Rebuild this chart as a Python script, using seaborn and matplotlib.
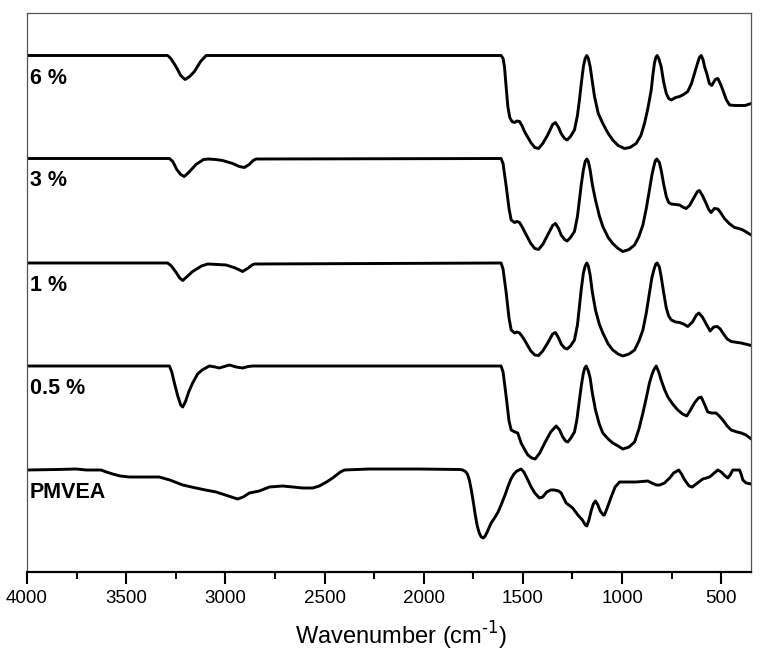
import numpy as np
import pandas as pd
import matplotlib
matplotlib.use("Agg")
import matplotlib.pyplot as plt
from matplotlib.ticker import MultipleLocator
import seaborn as sns

# sample names, top to bottom
samples = ["6 %", "3 %", "1 %", "0.5 %", "PMVEA"]

# wavenumber (cm-1) and signal relative to the flat baseline (a.u.)
wn_6 = [4000, 3291, 3275, 3249, 3225, 3203, 3180, 3156, 3125, 3097, 1610, 1600, 1593, 1585, 1576,
        1566, 1555, 1542, 1530, 1517, 1505, 1492, 1460, 1440, 1421, 1400, 1375, 1350, 1336, 1320,
        1307, 1290, 1277, 1260, 1240, 1225, 1215, 1205, 1195, 1186, 1178, 1170, 1161, 1150, 1139,
        1120, 1097, 1070, 1047, 1020, 988, 960, 929, 905, 887, 870, 853, 845, 837, 830,
        823, 815, 803, 790, 777, 765, 752, 730, 710, 690, 669, 650, 635, 620, 610,
        601, 592, 583, 573, 560, 548, 530, 517, 505, 492, 475, 458, 430, 408, 380, 349]
sig_6 = [0, 0, -3, -11, -20, -24, -21, -16, -6, 0, 0, -3, -11, -30, -51,
         -62, -66, -67, -65.5, -66, -70, -76, -87, -92, -93, -88, -79.5, -69, -67, -72,
         -78, -83, -84.5, -81, -74.5, -60, -44.5, -27, -11, -3, 0, -3, -11, -26, -41,
         -58, -68, -78, -84.5, -90, -93, -92, -88, -80, -68, -53, -34.5, -20, -8, -2,
         0, -3, -11, -27, -38, -43, -44.5, -42, -41, -39, -36, -28, -18, -8, -2,
         0, -4, -12, -18, -28, -30, -24, -23, -28, -34.5, -44, -49.5, -50, -50, -50, -48]

wn_3 = [4000, 3282, 3265, 3245, 3225, 3207, 3185, 3148, 3110, 3084, 3050, 3014, 2963, 2930, 2904,
        2880, 2860, 2845, 1610, 1600, 1584, 1570, 1559, 1542, 1530, 1517, 1505, 1492, 1460, 1440,
        1421, 1400, 1375, 1350, 1336, 1320, 1307, 1290, 1277, 1260, 1240, 1225, 1215, 1205, 1195,
        1186, 1178, 1170, 1161, 1150, 1134, 1115, 1097, 1070, 1047, 1020, 996, 965, 937, 915,
        895, 878, 862, 850, 840, 832, 825, 812, 803, 790, 777, 765, 752, 730, 710,
        690, 677, 660, 640, 620, 610, 595, 576, 563, 551, 535, 517, 500, 484, 460,
        433, 410, 391, 370, 349]
sig_3 = [0, 0, -3, -11, -16, -18, -14, -6, -1, -0.5, -1, -2, -5, -8, -9,
         -6, -2, -0.5, 0, -5, -28, -50, -61.5, -64, -63, -64, -68, -73, -85, -90,
         -91, -86, -76.5, -67, -65, -70, -76.5, -81, -82.5, -79, -73, -58, -41.5, -25, -11.5,
         -3, -0.5, -3, -11.5, -26, -41.5, -57, -68, -79, -85, -90, -93, -91, -86.5, -78,
         -66.5, -50, -31.5, -17, -8, -2, -0.5, -4, -11.5, -26, -38, -44, -45.5, -46, -46.5,
         -49, -50, -47, -40, -33, -32, -37, -45, -51, -54, -50, -50.5, -55, -60, -65,
         -69, -70, -71.5, -74, -76.5]

wn_1 = [4000, 3291, 3272, 3250, 3230, 3215, 3190, 3165, 3120, 3089, 3040, 2996, 2950, 2913, 2885,
        2865, 2854, 1610, 1600, 1584, 1570, 1559, 1542, 1530, 1517, 1505, 1492, 1460, 1440, 1421,
        1400, 1375, 1350, 1336, 1320, 1307, 1290, 1277, 1260, 1240, 1225, 1215, 1205, 1195, 1186,
        1178, 1170, 1161, 1150, 1134, 1115, 1097, 1070, 1047, 1020, 996, 965, 937, 915, 895,
        878, 862, 850, 840, 830, 823, 812, 803, 790, 777, 765, 752, 730, 710, 690,
        669, 645, 625, 613, 595, 576, 556, 538, 520, 505, 492, 470, 450, 400, 349]
sig_1 = [0, 0, -3, -9, -15, -17.5, -13, -8.5, -3, -1, -1.5, -2, -5, -8.5, -5,
         -2, -1, 0, -6, -30, -55, -67, -70, -69, -70, -73, -77, -88, -92, -92.5,
         -88, -80, -71, -69.5, -75, -81, -85, -86, -83, -77, -62, -43.5, -25, -10, -3,
         0, -3, -12, -29, -47, -61, -70, -81, -87, -91, -93, -91, -87, -78, -67,
         -50, -30, -15, -7, -1, 0, -4, -13.5, -30, -45, -53, -57, -59, -59.5, -61,
         -63.5, -59, -52, -50, -54, -61, -68, -64, -63.5, -66, -70, -76, -78.5, -80, -82.5]

wn_05 = [4000, 3282, 3270, 3257, 3240, 3225, 3215, 3200, 3185, 3165, 3140, 3117, 3081, 3050, 3030,
         3005, 2980, 2945, 2913, 2885, 2862, 1610, 1600, 1584, 1570, 1559, 1540, 1526, 1509, 1490,
         1475, 1455, 1438, 1415, 1390, 1360, 1332, 1315, 1299, 1285, 1274, 1258, 1240, 1228, 1215,
         1205, 1195, 1188, 1181, 1170, 1161, 1150, 1134, 1115, 1097, 1070, 1047, 1020, 996, 965,
         937, 915, 895, 878, 862, 850, 840, 828, 815, 803, 785, 769, 745, 719, 695,
         674, 655, 635, 615, 601, 585, 568, 548, 526, 510, 492, 470, 450, 420, 399,
         375, 349]
sig_05 = [0, 0, -6, -17, -30, -39, -41, -35, -26, -17, -8, -4, 0, -1, -2,
          -0.5, 1, -1, -2, -0.5, 0, 0, -6, -31, -55, -64, -66, -67, -77, -84,
          -89, -92, -93, -87, -77, -66, -60, -64, -71, -75, -76, -72, -66, -54, -34,
          -19, -7, -2, 0, -5, -12, -27, -44, -58, -67, -73, -77, -80, -83, -81,
          -76, -63, -47, -32, -17, -9, -4, 0, -6, -14, -24, -31, -38, -44, -48,
          -50, -44, -37, -32, -31, -38, -46, -47, -47, -50, -54, -60, -64, -66, -67,
          -69, -73]

wn_pm = [4000, 3850, 3753, 3700, 3627, 3600, 3568, 3530, 3484, 3400, 3333, 3280, 3215, 3148, 3100,
         3047, 3000, 2938, 2910, 2879, 2829, 2778, 2711, 2660, 2610, 2560, 2526, 2490, 2459, 2420,
         2400, 2274, 2022, 1820, 1803, 1790, 1780, 1770, 1760, 1750, 1740, 1730, 1720, 1710, 1700,
         1690, 1680, 1660, 1640, 1625, 1610, 1590, 1576, 1560, 1545, 1530, 1509, 1495, 1480, 1458,
         1440, 1417, 1400, 1380, 1360, 1341, 1320, 1307, 1282, 1249, 1223, 1200, 1185, 1178, 1167,
         1156, 1145, 1134, 1122, 1110, 1095, 1089, 1075, 1055, 1035, 1013, 980, 929, 870, 850,
         828, 810, 786, 760, 740, 714, 700, 690, 677, 662, 646, 620, 593, 575, 559,
         535, 517, 500, 480, 467, 455, 442, 425, 408, 400, 391, 375, 349]
sig_pm = [0, 0.5, 1, 0, 0, -2, -4, -6, -7, -7, -7, -10, -15, -18, -20,
          -22, -25, -29, -27, -23, -21, -17, -16, -17, -18, -18, -16, -12, -8, -2,
          0, 1, 1, 0.5, 0, -1.5, -4, -10, -20, -32, -45, -56, -63, -67, -68,
          -66, -62, -53, -47, -42, -35, -25, -17, -9, -4, -1, 1, -2, -8, -17,
          -23, -28, -27, -22, -20, -20, -21, -23, -33, -38, -45, -50, -55, -56, -50,
          -41, -34, -31, -35, -41, -45, -45, -38, -27, -17, -12, -12, -12, -11, -13,
          -15, -15, -13, -8, -3, 0, -4, -8, -12, -16, -17, -13, -9, -8, -7,
          -3, 0, -2, -6, -8, -5, 0, 0, 0, -4, -10, -13, -14]

wavenumbers = [wn_6, wn_3, wn_1, wn_05, wn_pm]
signals = [sig_6, sig_3, sig_1, sig_05, sig_pm]

# vertical stacking of the traces
offsets = [-55.5, -158.5, -263, -366, -470]

frames = []
for name, wn, sig, off in zip(samples, wavenumbers, signals, offsets):
    frames.append(pd.DataFrame({"wavenumber": wn,
                                "signal": np.array(sig, dtype=float) + off,
                                "sample": name}))
df = pd.concat(frames, ignore_index=True)

sns.set_style("ticks")
plt.rcParams['font.family'] = ['Liberation Sans', 'DejaVu Sans']
plt.rcParams['text.color'] = 'black'
plt.rcParams['axes.labelcolor'] = 'black'
plt.rcParams['xtick.color'] = 'black'

fig = plt.figure(figsize=(7.65, 6.6), dpi=100)
ax = fig.add_axes([27 / 765, 1 - 572 / 660, (751 - 27) / 765, (572 - 13) / 660])

sns.lineplot(data=df, x="wavenumber", y="signal", hue="sample", units="sample",
             estimator=None, sort=False, palette={s: "black" for s in samples},
             linewidth=2.1, legend=False, ax=ax)
for line in ax.lines:
    line.set_solid_joinstyle("round")
    line.set_solid_capstyle("round")

for name, off in zip(samples, offsets):
    ax.text(3986, off - 22.5, name, fontsize=15.5, fontweight="bold",
            ha="left", va="center", color="black")

ax.set_xlim(4000, 350)
ax.set_ylim(-572, -13)
ax.xaxis.set_major_locator(MultipleLocator(500))
ax.xaxis.set_minor_locator(MultipleLocator(250))
ax.set_yticks([])
ax.set_ylabel("")
ax.set_xlabel("Wavenumber (cm$^{\\text{-1}}$)", fontsize=17, labelpad=9)
ax.xaxis.label.set_x((401 - 27) / 724)
ax.tick_params(axis="x", which="major", direction="out", length=8.5, width=1.5,
               labelsize=13.5, pad=4.5, color="black", labelcolor="black")
ax.tick_params(axis="x", which="minor", direction="out", length=4.8, width=1.5, color="black")

for side in ["left", "top", "right"]:
    ax.spines[side].set_color("#555555")
    ax.spines[side].set_linewidth(0.9)
ax.spines["bottom"].set_color("black")
ax.spines["bottom"].set_linewidth(1.6)

fig.savefig("out.png", dpi=100)
